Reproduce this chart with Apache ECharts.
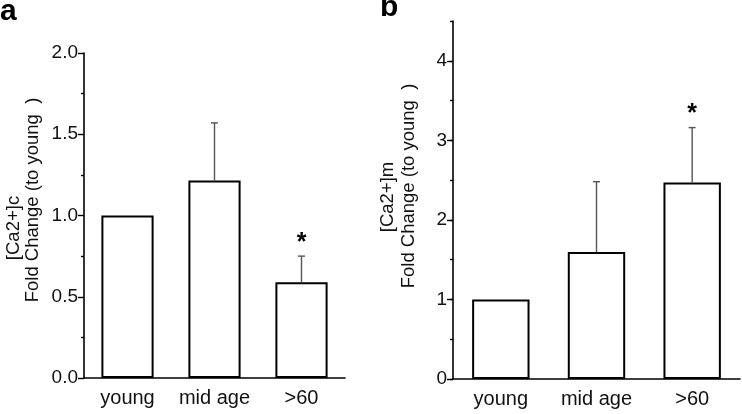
<!DOCTYPE html>
<html>
<head>
<meta charset="utf-8">
<script src="https://cdn.jsdelivr.net/npm/echarts@6/dist/echarts.min.js"></script>
<style>
  html, body { margin: 0; padding: 0; background: #fff; }
  #chart { width: 742px; height: 414px; }
</style>
</head>
<body>
<div id="chart"></div>
<script>
var groups = ['young', 'mid age', '>60'];
// panel a: cytosolic Ca2+
var meanA = [1.0, 1.215, 0.59];
var errA = [0, 0.355, 0.16];
var sigA = ['', '', '*'];
// panel b: mitochondrial Ca2+
var meanB = [1.0, 1.595, 2.47];
var errB = [0, 0.885, 0.69];
var sigB = ['', '', '*'];
var ticksA = [0, 0.5, 1.0, 1.5, 2.0];
var ticksB = [0, 1, 2, 3, 4];

var font = 'Arial, "Liberation Sans", sans-serif';

function errData(mean, err) {
    return mean.map(function (m, i) { return [i, m, err[i]]; });
}

function errRenderer(sig) {
    return function (params, api) {
        var i = api.value(0), v = api.value(1), e = api.value(2);
        var base = api.coord([i, v]);
        var top = api.coord([i, v + e]);
        var kids = [];
        if (e > 0) {
            kids.push({ type: 'line', shape: { x1: base[0], y1: base[1], x2: top[0], y2: top[1] },
                style: { stroke: '#555', lineWidth: 1.4 } });
            kids.push({ type: 'line', shape: { x1: top[0] - 3.5, y1: top[1], x2: top[0] + 3.5, y2: top[1] },
                style: { stroke: '#555', lineWidth: 1.4 } });
        }
        if (sig[params.dataIndex]) {
            kids.push({ type: 'text', x: top[0], y: top[1] - 13,
                style: { text: sig[params.dataIndex], fontSize: 25, fontWeight: 'bold', fontFamily: font, fill: '#000',
                    align: 'center', verticalAlign: 'middle' } });
        }
        return { type: 'group', children: kids };
    };
}

function mainX(gi) {
    return {
        type: 'category', gridIndex: gi, data: groups, position: 'bottom',
        axisLine: { lineStyle: { color: '#000', width: 1.6 } },
        axisTick: { alignWithLabel: true, length: 6, lineStyle: { color: '#000', width: 1.4 } },
        axisLabel: { interval: 0, color: '#111', fontSize: 20, fontFamily: font, margin: 10 }
    };
}
function minorX(gi) {
    return {
        type: 'category', gridIndex: gi, data: groups, position: 'bottom',
        axisLine: { show: false },
        axisTick: { length: 3, lineStyle: { color: '#000', width: 1.4 } },
        axisLabel: { show: false }
    };
}

var chart = echarts.init(document.getElementById('chart'));
chart.setOption({
    animation: false,
    grid: [
        { left: 84, right: 397, top: 53, bottom: 36, containLabel: false },
        { left: 453, right: 2, top: 21, bottom: 35, containLabel: false }
    ],
    xAxis: [mainX(0), minorX(0), mainX(1), minorX(1)],
    yAxis: [
        {
            type: 'value', gridIndex: 0, min: 0, max: 2, interval: 0.5, position: 'left',
            axisLine: { show: true, lineStyle: { color: '#000', width: 1.6 } },
            axisTick: { show: true, length: 6, lineStyle: { color: '#000', width: 1.4 } },
            minorTick: { show: true, splitNumber: 2, length: 3, lineStyle: { color: '#000', width: 1.4 } },
            splitLine: { show: false },
            axisLabel: { color: '#111', fontSize: 19, fontFamily: font, margin: 6,
                customValues: ticksA,
                formatter: function (v) { return v.toFixed(1); } }
        },
        {
            type: 'value', gridIndex: 1, min: 0, max: 4.5, interval: 0.5, position: 'left',
            axisLine: { show: true, lineStyle: { color: '#000', width: 1.6 } },
            axisTick: { show: true, length: 6, customValues: ticksB, lineStyle: { color: '#000', width: 1.4 } },
            splitLine: { show: false },
            axisLabel: { color: '#111', fontSize: 19, fontFamily: font, margin: 6, customValues: ticksB }
        },
        {
            type: 'value', gridIndex: 1, min: 0, max: 4.5, interval: 0.5, position: 'left',
            axisLine: { show: false },
            axisTick: { show: true, length: 3, lineStyle: { color: '#000', width: 1.4 } },
            splitLine: { show: false },
            axisLabel: { show: false }
        }
    ],
    graphic: [
        { type: 'text', left: 0, top: -3, style: { text: 'a', fontSize: 30, fontWeight: 'bold', fontFamily: font, fill: '#000' } },
        { type: 'text', left: 380, top: -7, style: { text: 'b', fontSize: 30, fontWeight: 'bold', fontFamily: font, fill: '#000' } },
        { type: 'text', x: 14, y: 228, rotation: Math.PI / 2,
          style: { text: '[Ca2+]c', fontSize: 18.5, fontFamily: font, fill: '#111', align: 'center', verticalAlign: 'middle' } },
        { type: 'text', x: 33, y: 200, rotation: Math.PI / 2,
          style: { text: 'Fold Change (to young  )', fontSize: 18.5, fontFamily: font, fill: '#111', align: 'center', verticalAlign: 'middle' } },
        { type: 'text', x: 388, y: 197, rotation: Math.PI / 2,
          style: { text: '[Ca2+]m', fontSize: 18.5, fontFamily: font, fill: '#111', align: 'center', verticalAlign: 'middle' } },
        { type: 'text', x: 409, y: 186, rotation: Math.PI / 2,
          style: { text: 'Fold Change (to young  )', fontSize: 18.5, fontFamily: font, fill: '#111', align: 'center', verticalAlign: 'middle' } }
    ],
    series: [
        {
            type: 'bar', xAxisIndex: 0, yAxisIndex: 0, data: meanA, barWidth: '60%',
            itemStyle: { color: '#fff', borderColor: '#000', borderWidth: 2 }
        },
        {
            type: 'custom', xAxisIndex: 0, yAxisIndex: 0, data: errData(meanA, errA),
            renderItem: errRenderer(sigA), z: 3
        },
        {
            type: 'bar', xAxisIndex: 2, yAxisIndex: 1, data: meanB, barWidth: '60%',
            itemStyle: { color: '#fff', borderColor: '#000', borderWidth: 2 }
        },
        {
            type: 'custom', xAxisIndex: 2, yAxisIndex: 1, data: errData(meanB, errB),
            renderItem: errRenderer(sigB), z: 3
        }
    ]
});
</script>
</body>
</html>
